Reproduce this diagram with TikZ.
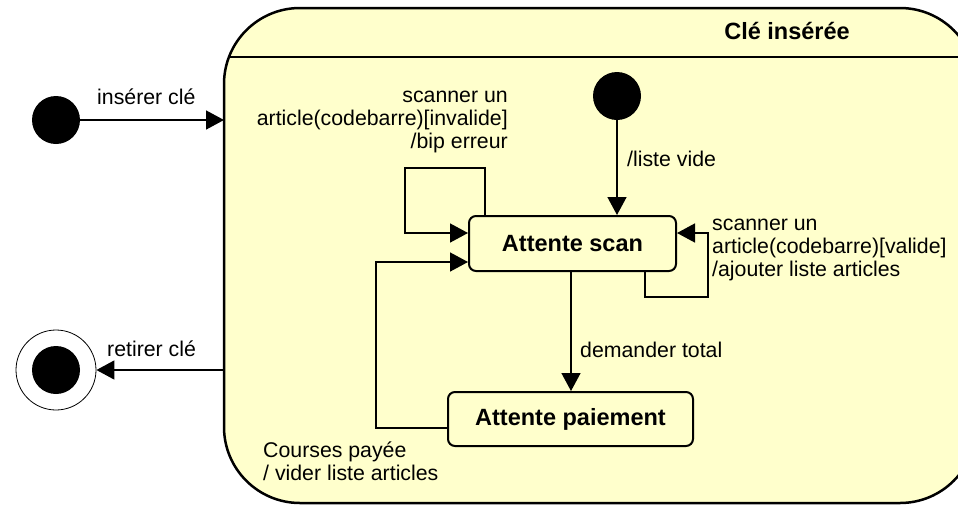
\documentclass[tikz,border=0pt]{standalone}
\usepackage{fontspec}
\setmainfont{Liberation Sans}
\usetikzlibrary{arrows.meta}
\definecolor{stfill}{HTML}{FFFFCC}
\begin{document}
\begin{tikzpicture}[x=1pt,y=-1pt,
 lbl/.style={inner sep=0pt, font=\fontsize{21.3}{23}\selectfont},
 bold/.style={inner sep=0pt, font=\fontsize{23.5}{26}\selectfont\bfseries},
 statebox/.style={draw, line width=2pt, rounded corners=7pt, fill=stfill, inner sep=0pt, font=\fontsize{23.5}{26}\selectfont\bfseries},
 arr/.style={line width=1.5pt, -{Triangle[length=18pt,width=19pt]}},
 initdot/.style={circle, fill=black, minimum size=48pt, inner sep=0pt}]
\useasboundingbox (0,0) rectangle (958,504);
% composite state "Clé insérée" (runs past the right edge of the picture; the page cuts it)
\path[fill=stfill, draw, line width=2.5pt, rounded corners=76pt] (224,8) rectangle (976,503);
\draw[line width=1.5pt] (229,57) -- (971,57);
\node[bold, anchor=base] (title) at (787,39) {Clé insérée};
\coordinate (cleIn) at (224,120);
\coordinate (cleOut) at (224,370);
% outer initial and final
\node[initdot] (init1) at (56,120) {};
\node[circle, draw, line width=0.8pt, minimum size=80pt, inner sep=0pt] (final) at (56,370) {};
\node[initdot] (finaldot) at (56,370) {};
\draw[arr] (init1) -- (cleIn);
\draw[arr] (cleOut) -- (final);
\node[lbl, anchor=base west] (lblIns) at (97,104) {insérer clé};
\node[lbl, anchor=base west] (lblRet) at (107,356) {retirer clé};
% inner states
\node[initdot] (init2) at (617,96) {};
\node[statebox, minimum width=207pt, minimum height=55pt] (scan) at (572.5,243.5) {Attente scan};
\node[statebox, minimum width=245pt, minimum height=54pt] (pay) at (570.5,419) {Attente paiement};
% transitions
\draw[arr] (init2) -- (init2 |- scan.north);
\draw[arr] (scan.north -| 485,0) -- (485,168) -- (405,168) -- (405,233) -- (scan.west |- 0,233);
\draw[arr] (scan.south -| 645,0) -- (645,297) -- (708,297) -- (708,233) -- (scan.east |- 0,233);
\draw[arr] (scan.south -| 571,0) -- (pay.north -| 571,0);
\draw[arr] (pay.west |- 0,428) -- (376,428) -- (376,262) -- (scan.west |- 0,262);
% labels (base anchor = baseline of the last line)
\node[lbl, anchor=base east, align=right] (lblInv) at (508,148) {scanner un\\article(codebarre)[invalide]\\/bip erreur};
\node[lbl, anchor=base west] (lblVide) at (627,166) {/liste vide};
\node[lbl, anchor=base west, align=left] (lblVal) at (712,276) {scanner un\\article(codebarre)[valide]\\/ajouter liste articles};
\node[lbl, anchor=base west] (lblTot) at (580,357) {demander total};
\node[lbl, anchor=base west, align=left] (lblPay) at (263,480) {Courses payée\\/ vider liste articles};
\end{tikzpicture}
\end{document}
